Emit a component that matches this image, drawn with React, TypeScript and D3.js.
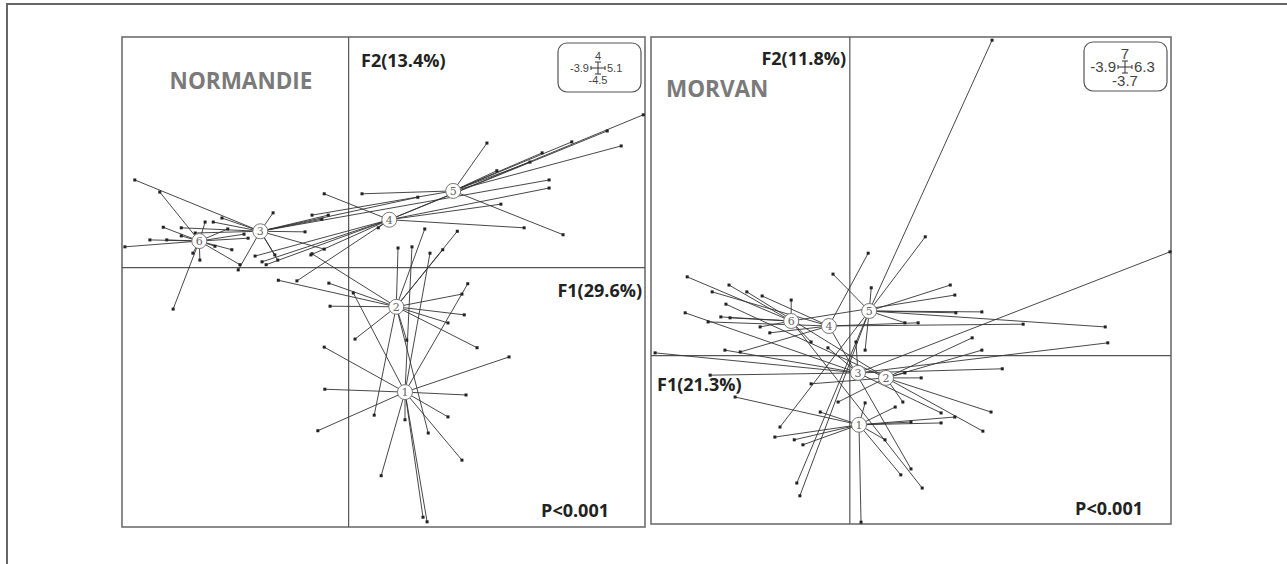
import * as d3 from "d3";

type Pt = [number, number];

// ---- NORMANDIE: between-class PCA scores, one array per class
const normClass1: Pt[] = [
  [-0.42, -1.38], [-0.41, -2.11], [-0.53, -2.83], [0.08, -0.44], [1.40, 0.25],
  [2.05, -0.28], [2.76, -1.55], [2.02, -2.21], [1.71, -2.59], [1.95, -3.34],
  [0.56, -3.61], [0.97, -2.64], [1.28, -4.33], [1.35, -4.41], [1.09, 0.36],
];
const normClass2: Pt[] = [
  [0.85, 0.34], [1.31, 0.67], [1.87, 0.63], [1.62, 0.31], [1.95, -0.46],
  [1.99, -0.82], [1.71, -0.96], [2.21, -1.39], [-1.21, -0.22], [-0.34, -0.27],
  [-0.32, -0.67], [0.11, -1.24], [-0.63, 0.24], [0.44, -2.56], [1.37, -2.87],
  [1.0, -1.26],
];
const normClass3: Pt[] = [
  [-3.68, 1.52], [-2.33, 0.79], [-1.3, 0.95], [-1.9, -0.04], [-1.27, 0.22],
  [-1.22, 0.13], [-0.42, 0.32], [-0.35, 0.91], [-0.46, 0.84], [-2.18, 0.86],
  [-2.88, 0.69], [-0.75, 0.62], [-2.64, 0.6], [3.45, 1.52], [1.19, 1.22],
];
const normClass4: Pt[] = [
  [3.02, 0.69], [3.45, 1.38], [2.62, 1.1], [-0.42, 1.28], [-0.89, -0.23],
  [-1.61, 0.2], [-1.42, 0.05], [-0.65, 0.22], [5.07, 2.65], [4.45, 2.37],
  [0.51, 0.69], [-1.49, 0.1],
];
const normClass5: Pt[] = [
  [3.84, 2.18], [4.69, 2.11], [2.38, 2.16], [3.69, 0.57], [0.23, 1.28],
  [3.12, 1.83], [2.55, 1.68], [3.33, 1.99], [-0.63, 0.91],
];
const normClass6: Pt[] = [
  [-3.25, 1.31], [-3.85, 0.36], [-3.19, 0.7], [-3.13, 0.48], [-2.47, 0.79],
  [-2.56, 0.13], [-2.68, 0.25], [-3.02, -0.72], [-2.01, 0.31], [-1.73, 0.51],
  [-1.8, 0.58], [-3.42, 0.48], [-2.3, 0.37], [-2.08, 0.67], [-2.88, 0.55],
  [-1.87, 0.05],
];
const normCentX = [0.97, 0.82, -1.52, 0.7, 1.8, -2.57];
const normCentY = [-2.16, -0.68, 0.63, 0.83, 1.33, 0.46];

// ---- MORVAN
const morClass1: Pt[] = [
  [0.22, -3.66], [1.2, -1.46], [1.79, -1.48], [2.06, -1.35], [0.69, -1.85],
  [-1.47, -1.79], [-1.09, -1.85], [-0.92, -1.96], [-2.25, -0.91], [1.0, -2.62],
  [0.3, -1.04], [-0.58, -1.24], [0.89, -1.13],
];
const morClass2: Pt[] = [
  [2.77, -1.24], [2.61, -1.66], [2.4, 0.39], [2.59, 0.12], [1.4, -0.49],
  [1.08, -0.38], [1.04, -1.02], [-0.23, -1.02], [-0.76, -0.62], [-2.43, 1.13],
  [-2.02, 1.4],
];
const morClass3: Pt[] = [
  [-3.82, 0.06], [6.28, 2.28], [5.06, 0.28], [2.99, -0.29], [-2.45, 0.12],
  [0.12, 0.3], [1.79, -1.26], [-2.74, -0.43], [-0.43, 0.17], [-3.23, 0.94],
];
const morClass4: Pt[] = [
  [0.36, 2.25], [3.4, 0.69], [1.2, -2.49], [1.34, 0.72],
  [-1.72, 1.31], [-2.7, 1.4], [-2.78, 0.74], [-2.15, 0.08], [-1.57, 0.5],
];
const morClass5: Pt[] = [
  [2.79, 6.93], [1.48, 2.61], [-0.33, 1.79], [0.42, 1.49], [1.97, 1.55],
  [2.59, 0.96], [-1.04, -2.8], [-0.98, -3.08], [-1.37, -1.57], [1.08, 0.72],
  [2.08, 0.94], [0.3, 0.12], [5.01, 0.63],
];
const morClass6: Pt[] = [
  [-3.19, 1.73], [-2.37, 1.55], [-2.53, 0.85], [-1.15, 1.22], [1.42, -2.91],
  [2.06, 1.33], [-0.76, 0.3], [-1.76, 0.63], [-2.35, 0.83],
];
const morCentX = [0.18, 0.71, 0.16, -0.41, 0.38, -1.15];
const morCentY = [-1.52, -0.49, -0.38, 0.65, 0.98, 0.76];

const classLabels = ["1", "2", "3", "4", "5", "6"];

type PanelProps = {
  x: d3.ScaleLinear<number, number>;
  y: d3.ScaleLinear<number, number>;
  classes: Pt[][];
  cx: number[];
  cy: number[];
};

function Panel({ x, y, classes, cx, cy }: PanelProps) {
  const [x0, x1] = x.range();
  const [y0, y1] = y.range();
  return (
    <g>
      <rect x={x0} y={y1} width={x1 - x0} height={y0 - y1} fill="#fff" stroke="#6e6e6e" strokeWidth={1.6} />
      <line x1={x(0)} x2={x(0)} y1={y1} y2={y0} stroke="#555" strokeWidth={1.2} />
      <line x1={x0} x2={x1} y1={y(0)} y2={y(0)} stroke="#555" strokeWidth={1.2} />
      {classes.map((pts, k) =>
        pts.map((p, i) => (
          <line key={`l${k}-${i}`} x1={x(cx[k])} y1={y(cy[k])} x2={x(p[0])} y2={y(p[1])}
            stroke="#333" strokeWidth={0.9} />
        ))
      )}
      {classes.map((pts, k) =>
        pts.map((p, i) => (
          <rect key={`p${k}-${i}`} x={x(p[0]) - 1.5} y={y(p[1]) - 1.5} width={3} height={3} fill="#222" />
        ))
      )}
      {cx.map((v, k) => (
        <g key={`c${k}`}>
          <circle cx={x(v)} cy={y(cy[k])} r={7.5} fill="#fff" stroke="#777" strokeWidth={1} />
          <text x={x(v)} y={y(cy[k]) + 4} textAnchor="middle" fontSize={11}
            fontFamily="DejaVu Serif" fill="#666">{classLabels[k]}</text>
        </g>
      ))}
    </g>
  );
}

function Legend({ left, top, w, h, labels, size, cxp, cyp }:
  { left: number; top: number; w: number; h: number; labels: string[]; size: number; cxp: number; cyp: number }) {
  return (
    <g fontFamily="Liberation Sans, Arial" fill="#444" fontSize={size}>
      <rect x={left} y={top} width={w} height={h} rx={9} fill="#fff" stroke="#555" strokeWidth={1.2} />
      <line x1={cxp} x2={cxp} y1={cyp - 6} y2={cyp + 6} stroke="#333" />
      <line x1={cxp - 7} x2={cxp + 7} y1={cyp} y2={cyp} stroke="#333" />
      <line x1={cxp - 3} x2={cxp + 3} y1={cyp - 6} y2={cyp - 6} stroke="#333" />
      <line x1={cxp - 3} x2={cxp + 3} y1={cyp + 6} y2={cyp + 6} stroke="#333" />
      <line x1={cxp - 7} x2={cxp - 7} y1={cyp - 2} y2={cyp + 2} stroke="#333" />
      <line x1={cxp + 7} x2={cxp + 7} y1={cyp - 2} y2={cyp + 2} stroke="#333" />
      <text x={cxp} y={cyp - 8} textAnchor="middle">{labels[0]}</text>
      <text x={cxp - 9} y={cyp + size * 0.36} textAnchor="end">{labels[1]}</text>
      <text x={cxp + 9} y={cyp + size * 0.36}>{labels[2]}</text>
      <text x={cxp} y={cyp + 8 + size * 0.72} textAnchor="middle">{labels[3]}</text>
    </g>
  );
}

export default function App() {
  const nx = d3.scaleLinear().domain([-3.9, 5.1]).range([122, 645]);
  const ny = d3.scaleLinear().domain([-4.5, 4]).range([527, 37]);
  const mx = d3.scaleLinear().domain([-3.9, 6.3]).range([651, 1171]);
  const my = d3.scaleLinear().domain([-3.7, 7]).range([524, 37]);

  const bold = { fontFamily: "Open Sans, sans-serif", fontWeight: 700 } as const;

  return (
    <svg width={1287} height={564} style={{ position: "absolute", left: 0, top: 0, background: "#fff" }}>
      <rect x={7} y={4} width={1400} height={700} fill="#fff" stroke="#666" strokeWidth={2} />

      <Panel x={nx} y={ny} cx={normCentX} cy={normCentY}
        classes={[normClass1, normClass2, normClass3, normClass4, normClass5, normClass6]} />
      <Panel x={mx} y={my} cx={morCentX} cy={morCentY}
        classes={[morClass1, morClass2, morClass3, morClass4, morClass5, morClass6]} />

      <text x={241} y={89} textAnchor="middle" fontSize={22.5} fill="#7a7a7a" {...bold}>NORMANDIE</text>
      <text x={361} y={67} fontSize={18} fill="#222" {...bold}>F2(13.4%)</text>
      <text x={642} y={297} textAnchor="end" fontSize={18} fill="#222" {...bold}>F1(29.6%)</text>
      <text x={609} y={517} textAnchor="end" fontSize={18} fill="#222" {...bold}>P&lt;0.001</text>
      <Legend left={558} top={43} w={83} h={49} labels={["4", "-3.9", "5.1", "-4.5"]} size={11} cxp={598} cyp={68} />

      <text x={666} y={97} fontSize={22.5} fill="#7a7a7a" {...bold}>MORVAN</text>
      <text x={846} y={65} textAnchor="end" fontSize={18} fill="#222" {...bold}>F2(11.8%)</text>
      <text x={657} y={391} fontSize={18} fill="#222" {...bold}>F1(21.3%)</text>
      <text x={1143} y={515} textAnchor="end" fontSize={18} fill="#222" {...bold}>P&lt;0.001</text>
      <Legend left={1084} top={42} w={83} h={49} labels={["7", "-3.9", "6.3", "-3.7"]} size={15} cxp={1125} cyp={67} />
    </svg>
  );
}
